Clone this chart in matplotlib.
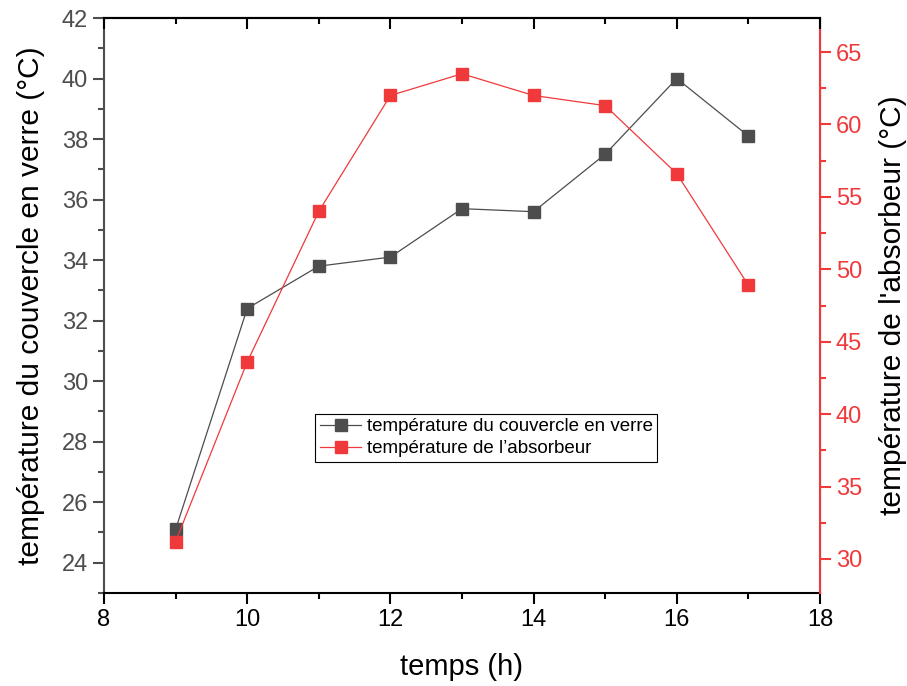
import matplotlib
matplotlib.use("Agg")
import matplotlib.pyplot as plt
from matplotlib.ticker import MultipleLocator

plt.rcParams['font.family'] = ['Liberation Sans', 'DejaVu Sans']

hours = [9, 10, 11, 12, 13, 14, 15, 16, 17]
t_cover = [25.1, 32.4, 33.8, 34.1, 35.7, 35.6, 37.5, 40.0, 38.1]
t_absorber = [31.2, 43.6, 54.0, 62.0, 63.5, 62.0, 61.3, 56.6, 48.9]

label_cover = "température du couvercle en verre"
label_abs = "température de l\u2019absorbeur"
ylabel_left = "température du couvercle en verre (°C)"
ylabel_right = "température de l'absorbeur (°C)"
xlabel = "temps (h)"

grey = '#4d4d4d'
red = '#f0393b'

fig = plt.figure(figsize=(9.07, 6.86), dpi=100)
ax = fig.add_axes([104/907, 1 - 593/686, (820-104)/907, (593-18)/686])
ax2 = ax.twinx()

l1, = ax.plot(hours, t_cover, color=grey, lw=0.9, marker='s', ms=8.5,
              markeredgecolor=grey, markerfacecolor=grey, label=label_cover)
l2, = ax2.plot(hours, t_absorber, color=red, lw=0.9, marker='s', ms=8.5,
               markeredgecolor=red, markerfacecolor=red, label=label_abs)

ax.set_xlim(8, 18)
ax.set_ylim(23, 42)
ax2.set_ylim(27.65, 67.35)

ax.xaxis.set_major_locator(MultipleLocator(2))
ax.xaxis.set_minor_locator(MultipleLocator(1))
ax.yaxis.set_major_locator(MultipleLocator(2))
ax.yaxis.set_minor_locator(MultipleLocator(1))
ax2.yaxis.set_major_locator(MultipleLocator(5))
ax2.yaxis.set_minor_locator(MultipleLocator(2.5))

for s in ['top', 'bottom']:
    ax.spines[s].set_color('black')
    ax.spines[s].set_linewidth(1.5)
ax.spines['left'].set_color(grey)
ax.spines['left'].set_linewidth(1.5)
ax2.spines['right'].set_color(red)
ax2.spines['right'].set_linewidth(1.5)
ax2.spines['left'].set_visible(False)
ax2.spines['top'].set_visible(False)
ax2.spines['bottom'].set_visible(False)

ax.tick_params(axis='x', which='both', direction='out', labelsize=17,
               colors='black', width=1.5)
ax.tick_params(axis='x', which='major', length=8)
ax.tick_params(axis='x', which='minor', length=4)

ax.tick_params(axis='y', which='both', direction='out', labelsize=17,
               colors=grey, width=1.5)
ax.tick_params(axis='y', which='major', length=8)
ax.tick_params(axis='y', which='minor', length=4)
ax2.tick_params(axis='y', which='both', direction='out', labelsize=17,
                colors=red, width=1.5)
ax2.tick_params(axis='y', which='major', length=8)
ax2.tick_params(axis='y', which='minor', length=4)

# top ticks pointing inward, drawn by a twin x axis sharing the same limits
top = ax.twiny()
top.set_xlim(ax.get_xlim())
top.xaxis.set_major_locator(MultipleLocator(2))
top.xaxis.set_minor_locator(MultipleLocator(1))
top.tick_params(axis='x', which='both', direction='in', labeltop=False,
                colors='black', width=1.5)
top.tick_params(axis='x', which='major', length=8)
top.tick_params(axis='x', which='minor', length=4)
top.tick_params(axis='y', which='both', left=False, right=False,
                labelleft=False, labelright=False)
for s in ['left', 'right', 'bottom']:
    top.spines[s].set_visible(False)
top.spines['top'].set_linewidth(1.5)

ax.set_xlabel(xlabel, fontsize=21, color='black', labelpad=16)
ax.set_ylabel(ylabel_left, fontsize=21.5, color='black', labelpad=12)
ax2.set_ylabel(ylabel_right, fontsize=21.5, color='black', labelpad=12)

leg = ax2.legend(handles=[l1, l2], loc='lower left',
                 bbox_to_anchor=(0.295, 0.228), fontsize=13.5, frameon=True,
                 fancybox=False, edgecolor='black', framealpha=1,
                 borderpad=0.25, handlelength=2.2, handletextpad=0.3,
                 labelspacing=0.25, borderaxespad=0)
leg.get_frame().set_linewidth(0.8)

fig.savefig("out.png", dpi=100)
